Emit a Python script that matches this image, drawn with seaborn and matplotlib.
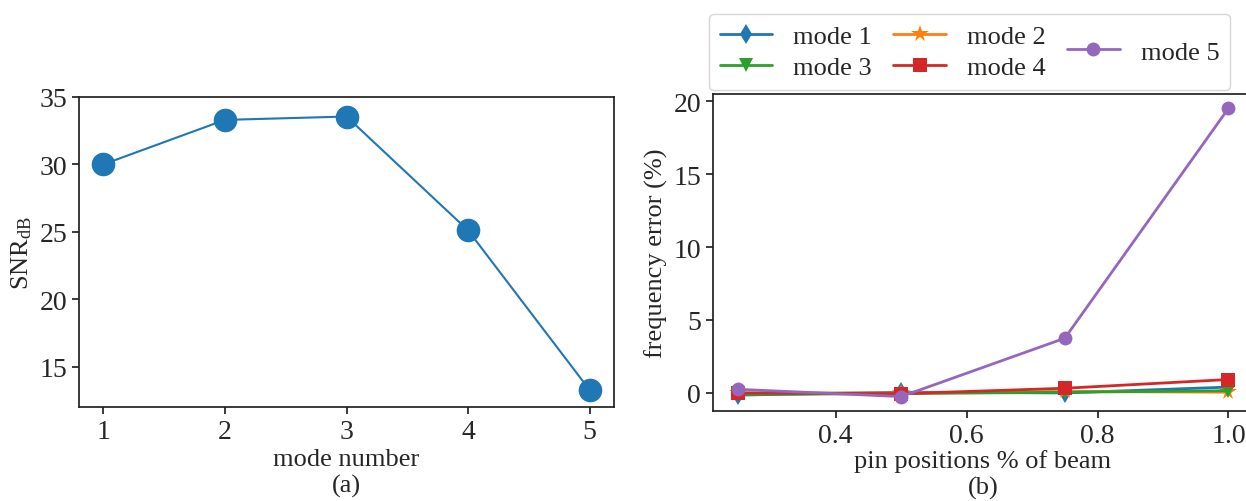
import matplotlib
matplotlib.use("Agg")
import matplotlib.pyplot as plt
import seaborn as sns
import pandas as pd

# (a) SNR per mode
mode_number = [1, 2, 3, 4, 5]
snr_db = [30.0, 33.3, 33.55, 25.1, 13.25]

# (b) frequency error vs pin position
pin_pos = [0.25, 0.5, 0.75, 1.0]
mode_labels = ["mode 1", "mode 2", "mode 3", "mode 4", "mode 5"]
err_mode1 = [-0.15, 0.05, 0.0, 0.4]
err_mode2 = [0.0, 0.0, 0.1, 0.05]
err_mode3 = [-0.1, -0.05, 0.05, 0.15]
err_mode4 = [0.0, -0.05, 0.32, 0.92]
err_mode5 = [0.25, -0.25, 3.75, 19.5]
mode_markers = ["d", "*", "v", "s", "o"]

sns.set_theme(style="ticks")
plt.rcParams["font.family"] = "serif"
plt.rcParams["font.serif"] = ["Liberation Serif", "DejaVu Serif"]
plt.rcParams["mathtext.fontset"] = "custom"
plt.rcParams["mathtext.rm"] = "Liberation Serif"
plt.rcParams["mathtext.it"] = "Liberation Serif:italic"
plt.rcParams["font.size"] = 19
plt.rcParams["axes.labelsize"] = 19
plt.rcParams["xtick.labelsize"] = 20
plt.rcParams["ytick.labelsize"] = 20
plt.rcParams["legend.fontsize"] = 19

fig = plt.figure(figsize=(12.46, 5.02), dpi=100)
ax1 = fig.add_axes([0.0634, 0.1873, 0.4294, 0.6175])
ax2 = fig.add_axes([0.5722, 0.1793, 0.4334, 0.6315])

df_a = pd.DataFrame({"mode": mode_number, "snr": snr_db})
sns.lineplot(data=df_a, x="mode", y="snr", ax=ax1, color="#1f77b4",
             marker="o", markersize=17, linewidth=1.5, markeredgewidth=0)
ax1.set_xticks(mode_number)
ax1.set_ylim(12, 35)
ax1.set_yticks([15, 20, 25, 30, 35])
ax1.set_xlabel("mode number\n(a)", labelpad=3)
ax1.set_ylabel(r"$\mathrm{SNR_{dB}}$")

errs = [err_mode1, err_mode2, err_mode3, err_mode4, err_mode5]
palette = sns.color_palette("tab10", 5)
for lab, e, m, c in zip(mode_labels, errs, mode_markers, palette):
    ms = 13 if m == "*" else 10
    sns.lineplot(x=pin_pos, y=e, ax=ax2, color=c, marker=m, markersize=ms,
                 markeredgewidth=0, linewidth=2, label=lab)
ax2.set_yticks([0, 5, 10, 15, 20])
ax2.set_xticks([0.4, 0.6, 0.8, 1.0])
ax2.set_xlabel("pin positions % of beam\n(b)", labelpad=1)
ax2.set_ylabel("frequency error (%)")
ax2.get_legend().remove()
h, l = ax2.get_legend_handles_labels()
# row-major order: mode 1, mode 2 / mode 3, mode 4, then mode 5 alone
order = [0, 2, 1, 3, 4]
leg = fig.legend([h[i] for i in order], [l[i] for i in order], ncol=3,
                 loc="lower left", bbox_to_anchor=(0.569, 0.819),
                 borderaxespad=0, handlelength=2.0, columnspacing=0.8,
                 labelspacing=0.3)
leg._legend_handle_box.align = "center"

for ax in (ax1, ax2):
    for s in ax.spines.values():
        s.set_visible(True)
        s.set_color("#222222")
    ax.tick_params(direction="out", length=5, color="#222222")

fig.savefig("out.png", dpi=100)
